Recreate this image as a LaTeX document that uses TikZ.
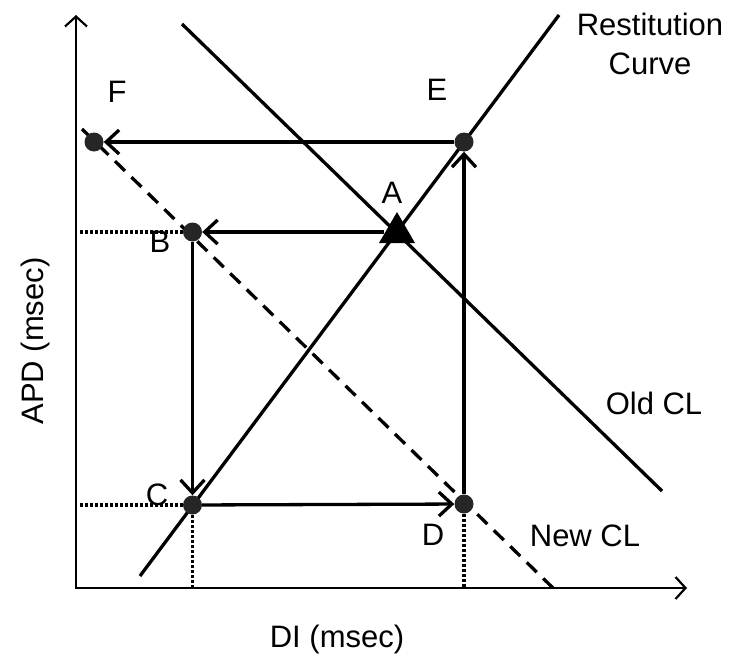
\documentclass[tikz,border=0pt]{standalone}
\usepackage{fontspec}
\setmainfont{Liberation Sans}
\usetikzlibrary{arrows.meta}
\begin{document}
\begin{tikzpicture}[x=1pt,y=-1pt,
  lbl/.style={font=\fontsize{31}{39}\selectfont, inner sep=0pt, anchor=base},
  dot/.style={circle, fill=black!85, inner sep=0pt, minimum size=19pt},
  arr/.style={line width=3.3pt, -{Straight Barb[length=13pt,width=24pt,line width=3.3pt]}},
  axisline/.style={line width=2.2pt, -{Straight Barb[length=10pt,width=22pt,line width=2.2pt]}},
  thin line/.style={line width=3.3pt},
  dotline/.style={line width=3.3pt, dash pattern=on 2.5pt off 2.5pt},
  dashline/.style={line width=3.3pt, dash pattern=on 14pt off 9pt}]
\useasboundingbox (0,0) rectangle (731,656);
% axes
\coordinate (O) at (76,588);
\coordinate (ytop) at (76,15);
\coordinate (xend) at (687,588);
\draw[axisline] (O) -- (ytop);
\draw[axisline] ([xshift=-1.1pt]O) -- (xend);
% key points
\coordinate (Fp) at (94,142);
\coordinate (Ep) at (464,142);
\coordinate (Bp) at (192.5,232);
\coordinate (Cp) at (192.5,505);
\coordinate (Dp) at (464,504);
% curves
\coordinate (r1) at (140,576);
\coordinate (r2) at (559,15);
\draw[thin line] (r1) -- (r2);
\coordinate (o1) at (182,24);
\coordinate (o2) at (662,491);
\draw[thin line] (o1) -- (o2);
\coordinate (n1) at (82,129);
\coordinate (n2) at (553,588);
\draw[dashline] (n1) -- (n2);
% dotted guides
\coordinate (gB) at (80,232);
\coordinate (gC) at (80,505);
\coordinate (gCx) at (192.5,588);
\coordinate (gDx) at (464,588);
\draw[dotline] (gB) -- (Bp);
\draw[dotline] (gC) -- (Cp);
\draw[dotline] (Cp) -- (gCx);
\draw[dotline] (Dp) -- (gDx);
% dots
\node[dot] (F) at (Fp) {};
\node[dot] (E) at (Ep) {};
\node[dot] (B) at (Bp) {};
\node[dot] (C) at (Cp) {};
\node[dot] (D) at (Dp) {};
% triangle A
\fill (397,212) -- (415,243) -- (379,243) -- cycle;
\coordinate (A) at (384,232);
% arrows
\draw[arr] (E) -- (F);
\draw[arr] (A) -- (B);
\draw[arr] (B) -- (C);
\draw[arr] (C) -- (D);
\draw[arr] (D) -- (E);
% labels
\node[lbl] (lF) at (117,102) {F};
\node[lbl] (lE) at (437,100) {E};
\node[lbl] (lA) at (392,203) {A};
\node[lbl] (lB) at (160,252) {B};
\node[lbl] (lC) at (157,505) {C};
\node[lbl] (lD) at (433,545) {D};
\node[lbl] (lNew) at (585,546) {New CL};
\node[lbl] (lOld) at (654,414) {Old CL};
\node[lbl, anchor=north, align=center] (lRes) at (650,13) {Restitution\\Curve};
\node[lbl] (lDI) at (337,647) {DI (msec)};
\node[lbl, rotate=90] (lAPD) at (43,341) {APD (msec)};
\end{tikzpicture}
\end{document}
